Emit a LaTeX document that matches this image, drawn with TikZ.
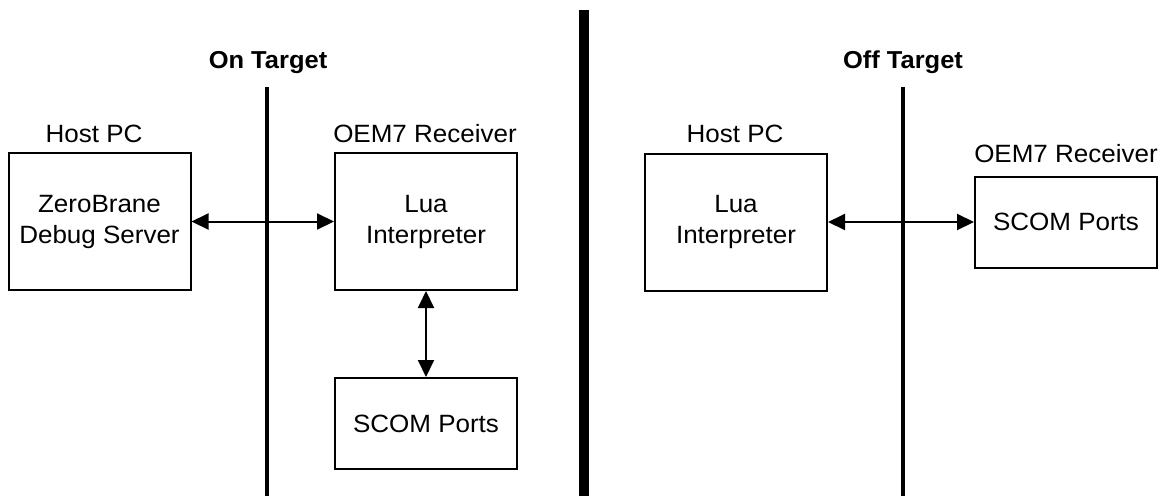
\documentclass[tikz,border=0pt]{standalone}
\usepackage{fontspec}
\setmainfont{Liberation Sans}[FakeStretch=1.04]
\usetikzlibrary{arrows.meta}
\begin{document}
\begin{tikzpicture}[x=1pt,y=-1pt,
  txt/.style={font=\fontsize{25}{31}\selectfont},
  ttl/.style={font=\fontsize{24.5}{31}\selectfont\bfseries, anchor=base},
  lbl/.style={txt, anchor=base, inner sep=0pt},
  bigbox/.style={draw, line width=2pt, minimum width=182pt, minimum height=137pt, inner sep=0pt, align=center, txt},
  smallbox/.style={draw, line width=2pt, minimum width=182pt, minimum height=91pt, inner sep=0pt, align=center, txt},
  link/.style={line width=2pt, {Triangle[length=17pt,width=16pt]}-{Triangle[length=17pt,width=16pt]}},
  divider/.style={line width=4pt},
  bigdivider/.style={line width=10pt}]
\useasboundingbox (0,0) rectangle (1170,496);
% dividers
\coordinate (d1t) at (267,87);
\coordinate (d1b) at (267,496);
\coordinate (d2t) at (584,10);
\coordinate (d2b) at (584,496);
\coordinate (d3t) at (903,87);
\coordinate (d3b) at (903,496);
\draw[divider] (d1t) -- (d1b);
\draw[bigdivider] (d2t) -- (d2b);
\draw[divider] (d3t) -- (d3b);
% titles
\node[ttl] (t1) at (268,68) {On Target};
\node[ttl] (t2) at (903,68) {Off Target};
% left part
\node[bigbox] (zb) at (99.5,221.5) {ZeroBrane\\Debug Server};
\node[bigbox] (lua1) at (426,221.5) {Lua\\Interpreter};
\node[smallbox] (scom1) at (426,423.5) {SCOM Ports};
\node[lbl] (l1) at (94,142) {Host PC};
\node[lbl] (l2) at (425,142) {OEM7 Receiver};
\draw[link] (zb) -- (lua1);
\draw[link] (lua1) -- (scom1);
% right part
\node[bigbox] (lua2) at (736,222) {Lua\\Interpreter};
\node[smallbox] (scom2) at (1066,222) {SCOM Ports};
\node[lbl] (l3) at (735,142) {Host PC};
\node[lbl] (l4) at (1066,162) {OEM7 Receiver};
\draw[link] (lua2) -- (scom2);
\end{tikzpicture}
\end{document}
